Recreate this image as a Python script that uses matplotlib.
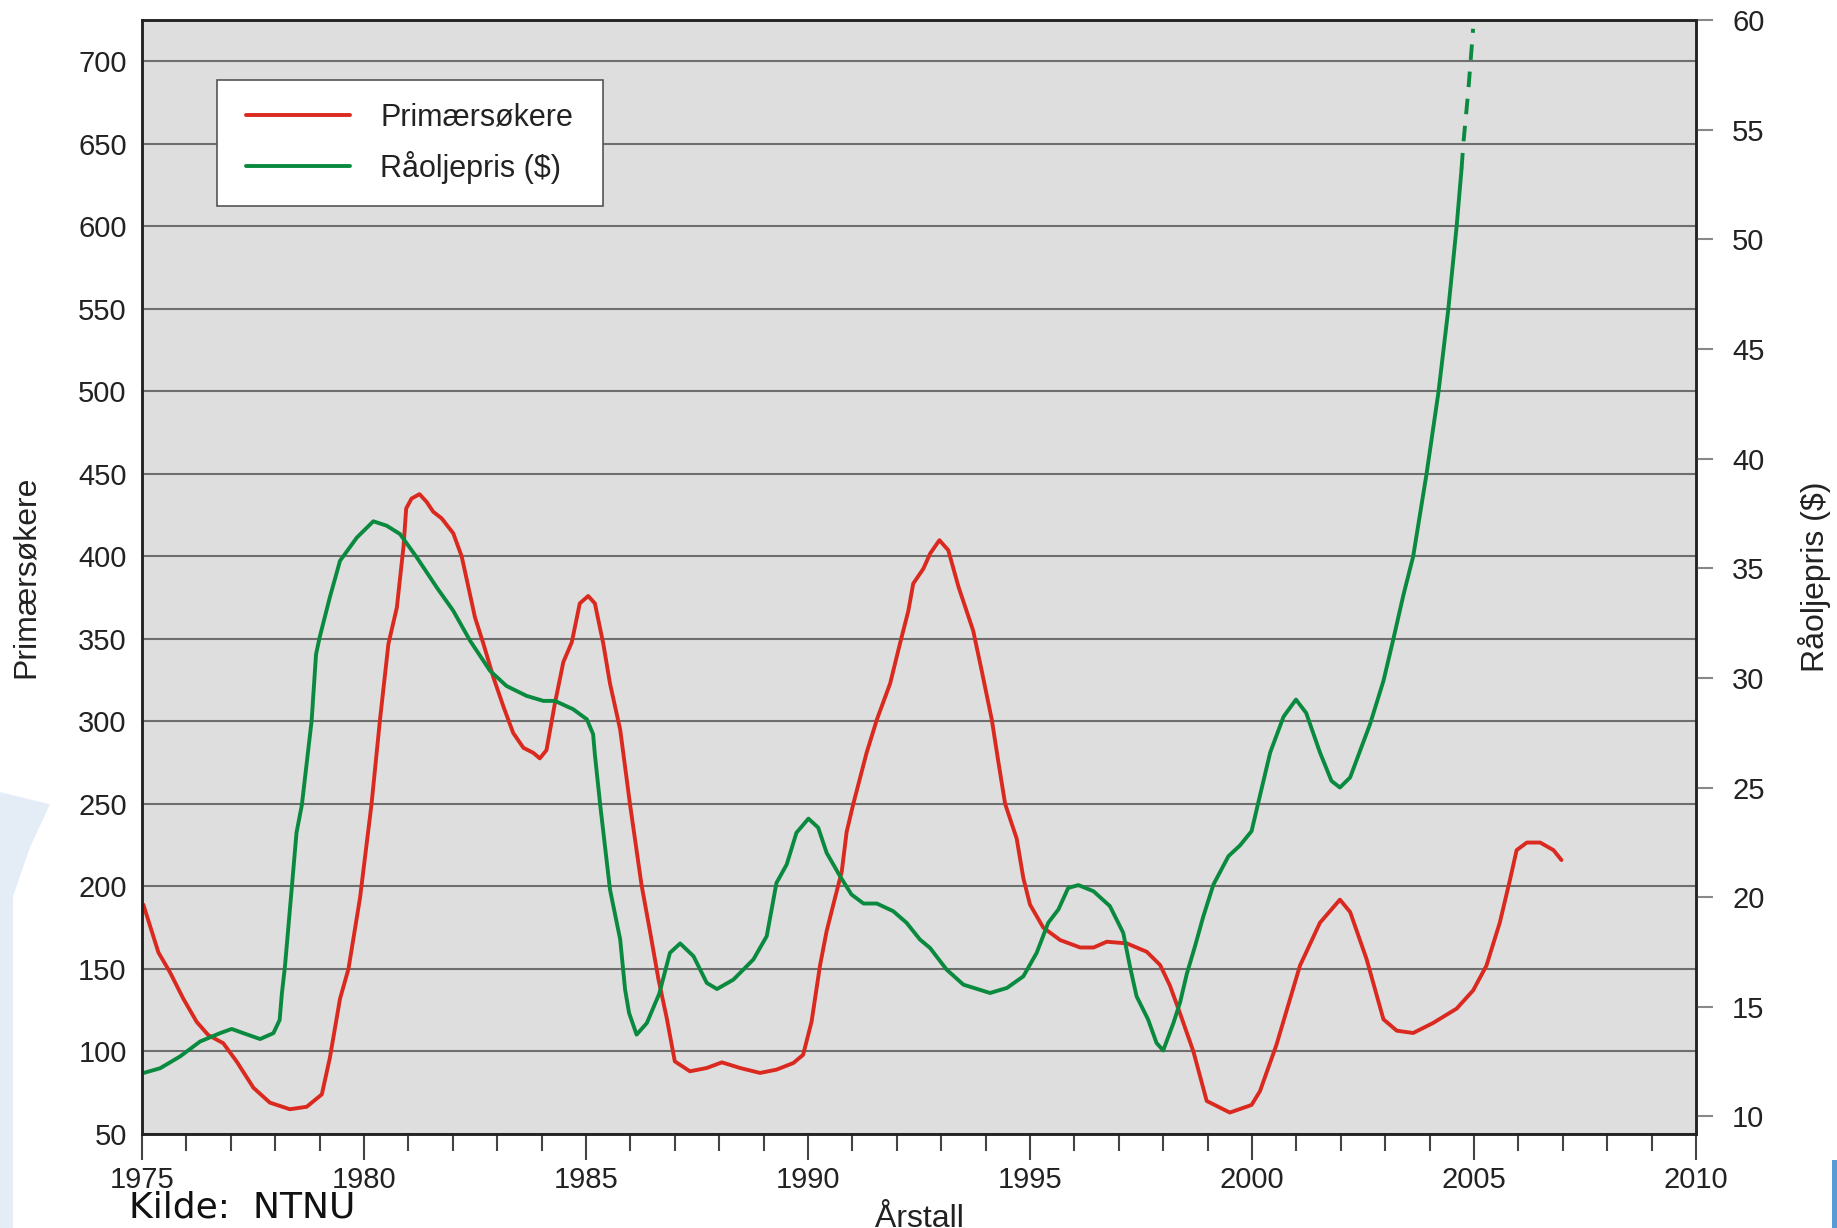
import matplotlib.pyplot as plt
from matplotlib.patches import Rectangle, Polygon
from matplotlib.ticker import MultipleLocator

# Primærsøkere (left axis)
red_years = [1975.03, 1975.37, 1975.63, 1975.93, 1976.23, 1976.49, 1976.83, 1977.13, 1977.51, 1977.88,
             1978.33, 1978.71, 1979.05, 1979.23, 1979.46, 1979.65, 1979.91, 1980.17, 1980.36, 1980.55,
             1980.74, 1980.89, 1980.95, 1981.07, 1981.25, 1981.41, 1981.56, 1981.75, 1982.01, 1982.2,
             1982.35, 1982.5, 1982.69, 1982.91, 1983.14, 1983.36, 1983.59, 1983.81, 1983.96, 1984.11,
             1984.3, 1984.49, 1984.68, 1984.86, 1985.05, 1985.2, 1985.39, 1985.54, 1985.77, 1985.99,
             1986.25, 1986.44, 1986.63, 1986.82, 1987.0, 1987.34, 1987.72, 1988.06, 1988.47, 1988.92,
             1989.29, 1989.67, 1989.89, 1990.08, 1990.27, 1990.42, 1990.57, 1990.76, 1990.87, 1991.02,
             1991.32, 1991.55, 1991.85, 1992.07, 1992.26, 1992.37, 1992.6, 1992.75, 1992.96, 1993.16,
             1993.39, 1993.72, 1993.91, 1994.14, 1994.29, 1994.44, 1994.7, 1994.85, 1995.0, 1995.3,
             1995.68, 1996.13, 1996.43, 1996.73, 1997.18, 1997.63, 1997.93, 1998.15, 1998.38, 1998.68,
             1998.98, 1999.5, 1999.99, 2000.18, 2000.55, 2001.08, 2001.53, 2001.98, 2002.21, 2002.58,
             2002.96, 2003.26, 2003.63, 2004.08, 2004.61, 2004.98, 2005.28, 2005.58, 2005.81, 2005.96,
             2006.19, 2006.49, 2006.79, 2006.97]
red_vals = [189, 160, 148, 132, 118, 110, 105, 94, 78, 69,
            65, 66.5, 74, 96, 132, 150, 193, 250, 301, 347,
            369, 406, 429, 435, 437.7, 433, 427, 423, 414, 400,
            381.5, 363, 347, 327, 309, 293, 284, 281, 277.6, 282.6,
            311, 336, 348, 371.5, 376, 371.5, 347, 323, 295, 250,
            201, 173, 144, 120, 94, 88, 90, 93.4, 90, 87,
            89, 93, 98, 118, 152, 173, 189, 209, 233, 250,
            281, 301, 323, 347, 367, 383.5, 392.6, 401.7, 409.8, 403.7,
            381.5, 355, 331, 301, 275, 250, 229, 205, 189, 175,
            167.5, 163, 163, 166.5, 165.5, 160.4, 152.4, 140, 123, 100,
            70, 63, 67.6, 76, 104, 152, 178, 192, 184.5, 156,
            119.5, 112.6, 111.2, 117.3, 126, 137, 152, 178, 204, 222,
            226.6, 226.6, 222, 216]

# Råoljepris ($) (right axis)
oil_years = [1975.03, 1975.41, 1975.86, 1976.31, 1976.76, 1977.02, 1977.28, 1977.66, 1977.96, 1978.1,
             1978.15, 1978.22, 1978.37, 1978.48, 1978.6, 1978.82, 1978.92, 1979.0, 1979.23, 1979.46,
             1979.84, 1980.21, 1980.51, 1980.81, 1981.19, 1981.64, 1982.01, 1982.39, 1982.84, 1983.21,
             1983.66, 1984.04, 1984.3, 1984.71, 1985.02, 1985.16, 1985.2, 1985.32, 1985.54, 1985.77,
             1985.88, 1985.97, 1986.14, 1986.37, 1986.65, 1986.89, 1987.12, 1987.42, 1987.72, 1987.95,
             1988.32, 1988.77, 1989.07, 1989.29, 1989.52, 1989.74, 1990.01, 1990.23, 1990.42, 1990.72,
             1990.98, 1991.25, 1991.55, 1991.92, 1992.22, 1992.52, 1992.75, 1993.12, 1993.5, 1994.1,
             1994.48, 1994.85, 1995.15, 1995.41, 1995.64, 1995.86, 1996.09, 1996.43, 1996.8, 1997.1,
             1997.25, 1997.4, 1997.66, 1997.85, 1998.0, 1998.23, 1998.38, 1998.53, 1998.72, 1998.9,
             1999.13, 1999.47, 1999.73, 1999.99, 2000.18, 2000.41, 2000.71, 2000.99, 2001.22, 2001.53,
             2001.79, 2001.98, 2002.21, 2002.66, 2002.96, 2003.18, 2003.41, 2003.63, 2003.93, 2004.2,
             2004.42, 2004.61, 2004.72]
oil_vals = [11.98, 12.2, 12.74, 13.42, 13.8, 13.99, 13.8, 13.53, 13.8, 14.4,
            15.6, 16.85, 20.35, 22.94, 24.2, 28.04, 31.08, 31.84, 33.67, 35.34,
            36.4, 37.14, 36.94, 36.56, 35.49, 34.12, 33.06, 31.69, 30.32, 29.63,
            29.18, 28.95, 28.95, 28.57, 28.11, 27.43, 26.5, 24.2, 20.35, 18.07,
            15.79, 14.72, 13.73, 14.26, 15.6, 17.46, 17.89, 17.31, 16.09, 15.81,
            16.24, 17.16, 18.22, 20.65, 21.49, 22.94, 23.58, 23.17, 22.02, 20.96,
            20.12, 19.71, 19.71, 19.36, 18.83, 18.07, 17.68, 16.7, 16.01, 15.63,
            15.86, 16.39, 17.46, 18.83, 19.44, 20.42, 20.55, 20.27, 19.59, 18.37,
            16.85, 15.48, 14.42, 13.35, 13.01, 14.26, 15.2, 16.49, 17.79, 19.1,
            20.57, 21.87, 22.36, 23.01, 24.64, 26.6, 28.23, 29.01, 28.4, 26.6,
            25.3, 25.0, 25.46, 27.9, 29.86, 31.74, 33.78, 35.54, 39.29, 43.04,
            46.79, 50.62, 53.23]
# dashed continuation
oil_dash_years = [2004.72, 2004.76, 2004.87, 2004.98]
oil_dash_vals = [53.23, 54.37, 56.74, 59.6]

red = '#da2a20'
green = '#0a8a3e'

fig = plt.figure(figsize=(18.37, 12.28), dpi=100)
fig.patch.set_facecolor('white')

# slide decorations
fig.patches.append(Polygon([(0, 0), (13 / 1837, 0), (13 / 1837, 0.27), (30 / 1837, 0.31),
                            (50 / 1837, 0.345), (0, 0.355)], closed=True,
                           facecolor='#e4edf6', edgecolor='none', transform=fig.transFigure))
fig.patches.append(Rectangle((1832 / 1837, 0), 5 / 1837, 68 / 1228, facecolor='#5b9bd5',
                             edgecolor='none', transform=fig.transFigure))

ax = fig.add_axes([0.0773, 0.07655, 0.84595, 0.90717])
ax.set_facecolor('#dedede')
ax2 = ax.twinx()

ax.plot(red_years, red_vals, color=red, lw=2.8, label='Primærsøkere',
        solid_joinstyle='round', solid_capstyle='round')
ax2.plot(oil_years, oil_vals, color=green, lw=2.8, label='Råoljepris ($)',
         solid_joinstyle='round', solid_capstyle='round')
ax2.plot(oil_dash_years, oil_dash_vals, color=green, lw=2.8, dashes=(4, 3))

ax.set_xlim(1975, 2010)
ax.set_ylim(50, 725)
ax2.set_ylim(9.2, 60)

ax.set_yticks(range(50, 701, 50))
ax.grid(axis='y', color='#6e6e6e', lw=1.5)
ax.set_axisbelow(True)

ax.xaxis.set_major_locator(MultipleLocator(5))
ax.xaxis.set_minor_locator(MultipleLocator(1))
ax.tick_params(axis='x', which='major', direction='out', length=19, width=1.5,
               color='#444444', labelsize=21, pad=4, labelcolor='#222222')
ax.tick_params(axis='x', which='minor', direction='out', length=12, width=1.5, color='#444444')
ax.tick_params(axis='y', length=0, labelsize=21, pad=11, labelcolor='#222222')

ax2.set_yticks(range(10, 61, 5))
ax2.tick_params(axis='y', direction='out', length=12, width=1.5, color='#888888',
                labelsize=21, pad=14, labelcolor='#222222')

for a in (ax, ax2):
    for s in a.spines.values():
        s.set_linewidth(1.8)
        s.set_color('#222222')

for lab in ax.get_xticklabels() + ax.get_yticklabels() + ax2.get_yticklabels():
    lab.set_fontfamily('Liberation Sans')

ax.set_ylabel('Primærsøkere', fontsize=23, family='Liberation Sans', color='#222222')
ax.yaxis.label.set_va('center')
ax.yaxis.set_label_coords(-0.0745, 0.5)
ax2.set_ylabel('Råoljepris ($)', fontsize=23, family='Liberation Sans', color='#222222')
ax2.yaxis.label.set_va('center')
ax2.yaxis.set_label_coords(1.076, 0.5)
ax.set_xlabel('Årstall', fontsize=23, family='Liberation Sans', color='#222222')
ax.xaxis.label.set_va('top')
ax.xaxis.set_label_coords(0.5, -0.063)

# legend: white frame drawn separately, entries without frame
ax2.add_patch(Rectangle((0.0483, 0.833), 0.2484, 0.1131, transform=ax2.transAxes,
                        facecolor='white', edgecolor='#555555', lw=1.2, zorder=4))
h1, l1 = ax.get_legend_handles_labels()
h2, l2 = ax2.get_legend_handles_labels()
leg = ax2.legend(h1 + h2, l1 + l2, loc='upper left', bbox_to_anchor=(0.0669, 0.9255),
                 borderaxespad=0, borderpad=0, frameon=False,
                 prop={'family': 'Liberation Sans', 'size': 22}, handlelength=3.4,
                 handletextpad=1.0, labelspacing=0.58)
leg.set_zorder(5)
for t in leg.get_texts():
    t.set_color('#222222')

fig.text(129 / 1837, 10 / 1228, 'Kilde:  NTNU', fontsize=26, family='DejaVu Sans',
         color='#111111', va='baseline', ha='left')

fig.savefig('out.png', dpi=100)
